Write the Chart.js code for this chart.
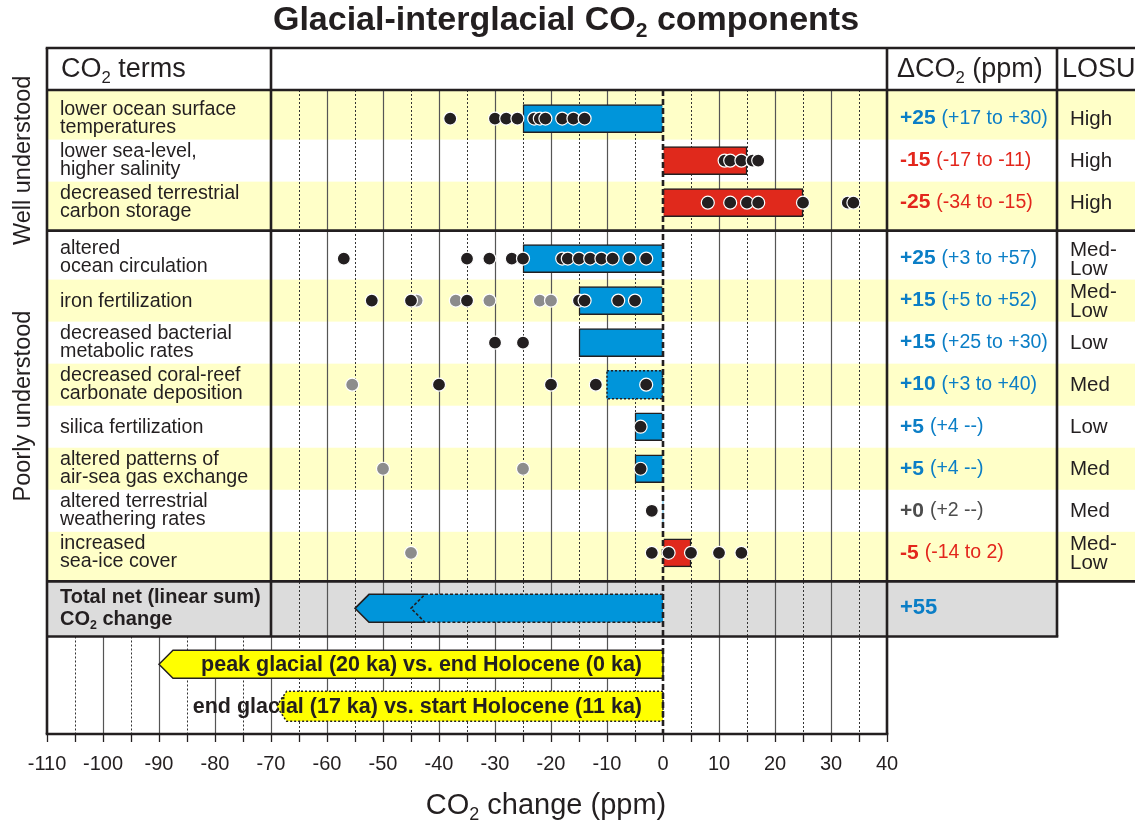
<!DOCTYPE html>
<html>
<head>
<meta charset="utf-8">
<title>Glacial-interglacial CO2 components</title>
<script src="https://cdn.jsdelivr.net/npm/chart.js@4.4.1/dist/chart.umd.min.js"></script>
<style>
  html, body { margin: 0; padding: 0; background: #fff; }
  #box { width: 1135px; height: 827px; }
</style>
</head>
<body>
<div id="box"><canvas id="co2Chart"></canvas></div>
<script>
// values, ppm
const termLabels = [
    ['lower ocean surface', 'temperatures'],
    ['lower sea-level,', 'higher salinity'],
    ['decreased terrestrial', 'carbon storage'],
    ['altered', 'ocean circulation'],
    ['iron fertilization'],
    ['decreased bacterial', 'metabolic rates'],
    ['decreased coral-reef', 'carbonate deposition'],
    ['silica fertilization'],
    ['altered patterns of', 'air-sea gas exchange'],
    ['altered terrestrial', 'weathering rates'],
    ['increased', 'sea-ice cover']
];
const barEnds = [-25, 15, 25, -25, -15, -15, -10, -5, -5, 0, 5];
const dco2Best = ['+25', '-15', '-25', '+25', '+15', '+15', '+10', '+5', '+5', '+0', '-5'];
const dco2Range = ['(+17 to +30)', '(-17 to -11)', '(-34 to -15)', '(+3 to +57)', '(+5 to +52)',
    '(+25 to +30)', '(+3 to +40)', '(+4 --)', '(+4 --)', '(+2 --)', '(-14 to 2)'];
const losuLevels = [['High'], ['High'], ['High'], ['Med-', 'Low'], ['Med-', 'Low'], ['Low'],
    ['Med'], ['Low'], ['Med'], ['Med'], ['Med-', 'Low']];
const blackDots = [
    [-38, -30, -28, -26, -23, -22, -21, -18, -16, -14],
    [11, 12, 14, 16, 17],
    [8, 12, 15, 17, 25, 33, 34],
    [-57, -35, -31, -27, -25, -18, -17, -15, -13, -11, -9, -6, -3],
    [-52, -45, -35, -15, -14, -8, -5],
    [-30, -25],
    [-40, -20, -12, -3],
    [-4],
    [-4],
    [-2],
    [-2, 1, 5, 10, 14]
];
const grayDots = [[], [], [], [], [-44, -37, -31, -22, -20], [], [-55.5], [], [-50, -25], [], [-45]];
const totalNet = [-55, -45];
const totalText = '+55';
const periodEnds = [-90, -69];
const periodLabels = ['peak glacial (20 ka) vs. end Holocene (0 ka)', 'end glacial (17 ka) vs. start Holocene (11 ka)'];
const groupNames = ['Well understood', 'Poorly understood'];

// vertical layout in row units
const rowPos = i => (i < 3 ? i : i + 0.33);
const TOTAL_Y = 11.65, PERIOD_Y = [12.98, 13.98];
const LAST_EDGE = 11.01, TOTAL_EDGE = 12.32;
const bandEdges = [-0.68];
for (let i = 1; i < termLabels.length; i++) bandEdges.push((rowPos(i - 1) + rowPos(i)) / 2);
bandEdges.push(LAST_EDGE);

const FONT = '"Liberation Sans", Arial, Helvetica, sans-serif';
const DARK = '#231f20', BLUE = '#0095da', BLUE_T = '#0b7ec6', RED = '#e0291c', RED_T = '#e3261c';
const YELLOW_ROW = '#ffffc8', GREY_ROW = '#dcdcdc', ARROW_Y = '#ffff00';

// text with "_x" parts drawn as subscript
function richWidth(ctx, parts, size, weight) {
    let w = 0;
    parts.forEach(p => {
        const sub = p.startsWith('_');
        ctx.font = weight + ' ' + (sub ? size * 0.62 : size) + 'px ' + FONT;
        w += ctx.measureText(sub ? p.slice(1) : p).width;
    });
    return w;
}
function richText(ctx, parts, x, y, size, weight, color, center) {
    let cx = center ? x - richWidth(ctx, parts, size, weight) / 2 : x;
    ctx.fillStyle = color;
    ctx.textBaseline = 'middle';
    ctx.textAlign = 'left';
    parts.forEach(p => {
        const sub = p.startsWith('_');
        const t = sub ? p.slice(1) : p;
        ctx.font = weight + ' ' + (sub ? size * 0.62 : size) + 'px ' + FONT;
        ctx.fillText(t, cx, sub ? y + size * 0.3 : y);
        cx += ctx.measureText(t).width;
    });
    return cx;
}

function arrowPath(ctx, x0, xTip, yc, h, tip) {
    ctx.beginPath();
    ctx.moveTo(x0, yc - h / 2);
    ctx.lineTo(xTip + tip, yc - h / 2);
    ctx.lineTo(xTip, yc);
    ctx.lineTo(xTip + tip, yc + h / 2);
    ctx.lineTo(x0, yc + h / 2);
    ctx.closePath();
}

const tablePlugin = {
    id: 'table',
    beforeDatasetsDraw(chart) {
        const {ctx, chartArea: a, scales: {x, y}} = chart;
        const W = chart.width;
        const dRight = a.right + 170;
        ctx.save();
        // row bands
        for (let i = 0; i < termLabels.length; i++) {
            if (i % 2) continue;
            const t = y.getPixelForValue(bandEdges[i]), b = y.getPixelForValue(bandEdges[i + 1]);
            ctx.fillStyle = YELLOW_ROW;
            ctx.fillRect(a.left, t, W - a.left, b - t);
        }
        const tt = y.getPixelForValue(LAST_EDGE), tb = y.getPixelForValue(TOTAL_EDGE);
        ctx.fillStyle = GREY_ROW;
        ctx.fillRect(a.left, tt, dRight - a.left, tb - tt);
        // grid: solid at 10, dotted at 5
        for (let v = -105; v < 40; v += 5) {
            if (v === 0) continue;
            const px = Math.round(x.getPixelForValue(v)) + 0.5;
            const top = v > -70 ? a.top : tb;
            ctx.beginPath();
            if (v % 10) {
                ctx.setLineDash([2, 2]);
                ctx.lineWidth = 1;
                ctx.strokeStyle = '#333';
            } else {
                ctx.setLineDash([]);
                ctx.lineWidth = 1.2;
                ctx.strokeStyle = '#555';
            }
            ctx.moveTo(px, top);
            ctx.lineTo(px, a.bottom);
            ctx.stroke();
        }
        ctx.restore();
    },
    afterDatasetDraw(chart, args) {
        if (args.index !== 0) return;
        const {ctx, chartArea: a, scales: {x, y}} = chart;
        const x0 = x.getPixelForValue(0);
        ctx.save();
        // dotted outline of the coral-reef bar
        const el = chart.getDatasetMeta(0).data[6];
        const p = el.getProps(['x', 'y', 'base', 'height'], true);
        ctx.setLineDash([2, 2]);
        ctx.lineWidth = 1.5;
        ctx.strokeStyle = DARK;
        ctx.strokeRect(p.x, p.y - p.height / 2, p.base - p.x, p.height);

        // total net arrow
        const yT = y.getPixelForValue(TOTAL_Y), h = 28, tip = 14;
        const xs = x.getPixelForValue(totalNet[0]), xd = x.getPixelForValue(totalNet[1]);
        arrowPath(ctx, x0, xs, yT, h, tip);
        ctx.fillStyle = BLUE;
        ctx.fill();
        ctx.setLineDash([]);
        ctx.lineWidth = 1.6;
        ctx.beginPath();
        ctx.moveTo(xd + tip, yT - h / 2);
        ctx.lineTo(xs + tip, yT - h / 2);
        ctx.lineTo(xs, yT);
        ctx.lineTo(xs + tip, yT + h / 2);
        ctx.lineTo(xd + tip, yT + h / 2);
        ctx.stroke();
        ctx.setLineDash([3, 2]);
        ctx.beginPath();
        ctx.moveTo(x0, yT - h / 2);
        ctx.lineTo(xd + tip, yT - h / 2);
        ctx.lineTo(xd, yT);
        ctx.lineTo(xd + tip, yT + h / 2);
        ctx.lineTo(x0, yT + h / 2);
        ctx.stroke();

        // glacial period arrows
        periodEnds.forEach((v, i) => {
            const yc = y.getPixelForValue(PERIOD_Y[i]);
            const hh = i === 0 ? 28 : 30;
            arrowPath(ctx, x0, x.getPixelForValue(v), yc, hh, i === 0 ? 14 : 10);
            ctx.fillStyle = ARROW_Y;
            ctx.fill();
            ctx.setLineDash(i === 0 ? [] : [2, 2]);
            ctx.lineWidth = 1.5;
            ctx.stroke();
            ctx.font = 'bold 21.5px ' + FONT;
            ctx.fillStyle = DARK;
            ctx.textAlign = 'right';
            ctx.textBaseline = 'middle';
            ctx.fillText(periodLabels[i], x0 - 21, yc + 1);
        });

        // zero line
        ctx.setLineDash([6, 3]);
        ctx.lineWidth = 2.6;
        ctx.beginPath();
        ctx.moveTo(x0, a.top);
        ctx.lineTo(x0, a.bottom);
        ctx.stroke();
        ctx.restore();
    },
    afterDatasetsDraw(chart) {
        const {ctx, chartArea: a, scales: {x, y}} = chart;
        const W = chart.width;
        const L = a.left, R = a.right, dRight = R + 170;
        const colX = x.getPixelForValue(-70);
        const T = 48;
        const ySep = y.getPixelForValue(bandEdges[3]);
        const yLast = y.getPixelForValue(LAST_EDGE), yTot = y.getPixelForValue(TOTAL_EDGE);
        ctx.save();
        // frame lines
        ctx.strokeStyle = DARK;
        ctx.lineWidth = 2.6;
        ctx.setLineDash([]);
        const seg = (x1, y1, x2, y2) => { ctx.beginPath(); ctx.moveTo(x1, y1); ctx.lineTo(x2, y2); ctx.stroke(); };
        seg(L - 1.3, T, W, T);
        seg(L, a.top, W, a.top);
        seg(L, ySep, W, ySep);
        seg(L, yLast, W, yLast);
        seg(L, yTot, dRight + 1.3, yTot);
        seg(L - 1.3, a.bottom, R + 1.3, a.bottom);
        seg(L, T, L, a.bottom);
        seg(colX, T, colX, yTot);
        seg(R, T, R, a.bottom);
        seg(dRight, T, dRight, yTot);

        // title and axis title
        richText(ctx, ['Glacial-interglacial CO', '_2', ' components'], 566, 21, 34, 'bold', DARK, true);
        richText(ctx, ['CO', '_2', ' change (ppm)'], 546, 806, 29, 'normal', DARK, true);

        // headers
        const hy = (T + a.top) / 2 + 1;
        richText(ctx, ['CO', '_2', ' terms'], L + 14, hy, 27, 'normal', DARK);
        richText(ctx, ['\u0394CO', '_2', ' (ppm)'], R + 10, hy, 27, 'normal', DARK);
        richText(ctx, ['LOSU'], dRight + 5, hy, 27, 'normal', DARK);

        // rows
        termLabels.forEach((lines, i) => {
            const c = y.getPixelForValue(rowPos(i));
            const offs = lines.length === 2 ? [-9.5, 8.5] : [0.5];
            ctx.font = '19.7px ' + FONT;
            ctx.fillStyle = DARK;
            ctx.textAlign = 'left';
            ctx.textBaseline = 'middle';
            lines.forEach((t, k) => ctx.fillText(t, L + 13, c + offs[k]));

            const best = dco2Best[i];
            const col = best === '+0' ? '#4d4d4d' : (best[0] === '-' ? RED_T : BLUE_T);
            const nx = richText(ctx, [best], R + 13, c, 21, 'bold', col);
            richText(ctx, [dco2Range[i]], nx + 6, c, 19.5, 'normal', col);

            const lo = losuLevels[i];
            const lOffs = lo.length === 2 ? [-8, 11] : [1];
            ctx.font = '20.5px ' + FONT;
            ctx.fillStyle = DARK;
            ctx.textAlign = 'left';
            lo.forEach((t, k) => ctx.fillText(t, dRight + 13, c + lOffs[k]));
        });

        // total row
        const tc = y.getPixelForValue(TOTAL_Y);
        richText(ctx, ['Total net (linear sum)'], L + 13, tc - 11, 20, 'bold', DARK);
        richText(ctx, ['CO', '_2', ' change'], L + 13, tc + 11, 20, 'bold', DARK);
        richText(ctx, [totalText], R + 13, tc, 22, 'bold', BLUE_T);

        // group labels, rotated
        ctx.font = '23.5px ' + FONT;
        ctx.fillStyle = DARK;
        ctx.textAlign = 'center';
        ctx.textBaseline = 'middle';
        const groups = [[a.top, ySep], [ySep, yLast]];
        groups.forEach((g, i) => {
            ctx.save();
            ctx.translate(24, (g[0] + g[1]) / 2);
            ctx.rotate(-Math.PI / 2);
            ctx.fillText(groupNames[i], 0, 0);
            ctx.restore();
        });
        ctx.restore();
    }
};

const dotData = arr => arr.flatMap((xs, i) => xs.map(v => ({x: v, y: rowPos(i)})));

const co2Chart = new Chart(document.getElementById('co2Chart'), {
    type: 'bar',
    data: {
        datasets: [{
            type: 'bar',
            indexAxis: 'y',
            data: barEnds.map((v, i) => ({x: v, y: rowPos(i)})),
            backgroundColor: barEnds.map(v => (v > 0 ? RED : BLUE)),
            borderColor: DARK,
            borderWidth: barEnds.map((v, i) => (v === 0 || i === 6 ? 0 : 1.5)),
            barThickness: 28,
            order: 3
        }, {
            type: 'scatter',
            data: dotData(grayDots),
            pointRadius: 6.5,
            pointHoverRadius: 6.5,
            pointBackgroundColor: '#8c8c8c',
            pointBorderColor: '#fff',
            pointBorderWidth: 1.2,
            order: 2
        }, {
            type: 'scatter',
            data: dotData(blackDots),
            pointRadius: 6.5,
            pointHoverRadius: 6.5,
            pointBackgroundColor: DARK,
            pointBorderColor: '#fff',
            pointBorderWidth: 1.2,
            order: 1
        }]
    },
    options: {
        responsive: true,
        maintainAspectRatio: false,
        animation: false,
        devicePixelRatio: 1,
        layout: {padding: {left: 47, right: 248, top: 90, bottom: 41}},
        scales: {
            x: {
                type: 'linear',
                min: -110,
                max: 40,
                offset: false,
                ticks: {
                    stepSize: 5,
                    autoSkip: false,
                    maxRotation: 0,
                    padding: 10,
                    color: DARK,
                    font: {family: FONT, size: 20},
                    callback: v => (v % 10 === 0 ? v : '')
                },
                grid: {drawOnChartArea: false, drawTicks: true, tickLength: 8, tickColor: DARK, tickWidth: 1.3, offset: false},
                border: {display: false},
                title: {display: false}
            },
            y: {
                type: 'linear',
                display: false,
                reverse: true,
                offset: false,
                min: -0.68,
                max: 14.64
            }
        },
        plugins: {
            legend: {display: false},
            tooltip: {enabled: false},
            title: {display: false}
        }
    },
    plugins: [tablePlugin]
});
</script>
</body>
</html>
